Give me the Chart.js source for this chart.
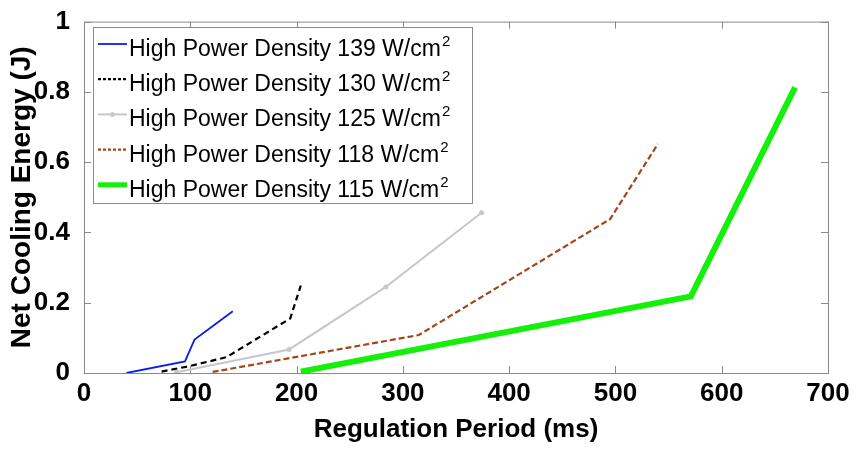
<!DOCTYPE html>
<html>
<head>
<meta charset="utf-8">
<script src="https://cdn.jsdelivr.net/npm/chart.js@4.4.0/dist/chart.umd.min.js"></script>
<style>
  html, body { margin: 0; padding: 0; background: #fff; }
</style>
</head>
<body>
<canvas id="myChart" width="854" height="451"></canvas>
<script>
// regulation period (ms) / net cooling energy (J) for each power density
var p139x = [40, 95, 104, 140];
var p139y = [0, 0.033, 0.095, 0.176];
var p130x = [73, 100, 134, 194, 204];
var p130y = [0.004, 0.02, 0.045, 0.155, 0.249];
var p125x = [87, 193, 284, 374];
var p125y = [0.002, 0.067, 0.245, 0.456];
var p118x = [121, 315, 495, 540];
var p118y = [0.003, 0.108, 0.438, 0.652];
var p115x = [204, 571, 669];
var p115y = [0.004, 0.218, 0.813];

var seriesNames = ['High Power Density 139 W/cm', 'High Power Density 130 W/cm',
  'High Power Density 125 W/cm', 'High Power Density 118 W/cm', 'High Power Density 115 W/cm'];
var xTicks = [0, 100, 200, 300, 400, 500, 600, 700];
var yTicks = [0, 0.2, 0.4, 0.6, 0.8, 1];

var FONT = "'Liberation Sans', Arial, sans-serif";
Chart.defaults.font.family = FONT;
Chart.defaults.color = '#000';

function pts(xs, ys) {
  return xs.map(function(v, i) { return {x: v, y: ys[i]}; });
}

// box frame with matlab style inward ticks
var frameTicks = {
  id: 'frameTicks',
  beforeDatasetsDraw: function(chart) {
    var ctx = chart.ctx, a = chart.chartArea;
    var sx = chart.scales.x, sy = chart.scales.y;
    ctx.save();
    ctx.strokeStyle = '#8a8a8a';
    ctx.lineWidth = 1;
    ctx.strokeRect(a.left + 0.5, a.top + 0.5, a.right - a.left, a.bottom - a.top);
    ctx.beginPath();
    xTicks.forEach(function(v) {
      var px = Math.round(sx.getPixelForValue(v)) + 0.5;
      ctx.moveTo(px, a.bottom); ctx.lineTo(px, a.bottom - 7);
      ctx.moveTo(px, a.top); ctx.lineTo(px, a.top + 7);
    });
    yTicks.forEach(function(v) {
      var py = Math.round(sy.getPixelForValue(v)) + 0.5;
      ctx.moveTo(a.left, py); ctx.lineTo(a.left + 7, py);
      ctx.moveTo(a.right, py); ctx.lineTo(a.right - 7, py);
    });
    ctx.stroke();
    ctx.restore();
  }
};

// legend box in the upper left corner, with superscript units
var boxLegend = {
  id: 'boxLegend',
  afterDraw: function(chart) {
    var ctx = chart.ctx;
    var left = 93, top = 27, w = 379, h = 176;
    ctx.save();
    ctx.fillStyle = '#fff';
    ctx.fillRect(left, top, w, h);
    ctx.strokeStyle = '#8a8a8a';
    ctx.lineWidth = 1;
    ctx.strokeRect(left + 0.5, top + 0.5, w, h);
    chart.data.datasets.forEach(function(ds, i) {
      var ly = 44 + i * 35.2;
      ctx.save();
      ctx.strokeStyle = ds.borderColor;
      ctx.lineWidth = Math.min(ds.borderWidth, 5);
      ctx.setLineDash(ds.borderDash ? [3, 2] : []);
      ctx.beginPath();
      ctx.moveTo(98, ly);
      ctx.lineTo(127, ly);
      ctx.stroke();
      if (ds.pointRadius > 0) {
        ctx.fillStyle = ds.borderColor;
        ctx.beginPath();
        ctx.arc(112.5, ly, 2.5, 0, Math.PI * 2);
        ctx.fill();
      }
      ctx.restore();
      ctx.fillStyle = '#000';
      ctx.textBaseline = 'alphabetic';
      ctx.font = '23px ' + FONT;
      ctx.fillText(seriesNames[i], 129, ly + 12);
      var tw = ctx.measureText(seriesNames[i]).width;
      ctx.font = '15px ' + FONT;
      ctx.fillText('2', 129 + tw + 1, ly + 2);
    });
    ctx.restore();
  }
};

var config = {
  type: 'line',
  data: {
    datasets: [{
      label: seriesNames[0],
      data: pts(p139x, p139y),
      borderColor: 'rgb(10,30,235)',
      borderWidth: 1.8,
      pointRadius: 0
    }, {
      label: seriesNames[1],
      data: pts(p130x, p130y),
      borderColor: 'rgb(0,0,0)',
      borderWidth: 2.2,
      borderDash: [6, 4],
      pointRadius: 0
    }, {
      label: seriesNames[2],
      data: pts(p125x, p125y),
      borderColor: 'rgb(200,200,200)',
      backgroundColor: 'rgb(200,200,200)',
      borderWidth: 2,
      pointRadius: 2.5,
      pointBorderWidth: 0
    }, {
      label: seriesNames[3],
      data: pts(p118x, p118y),
      borderColor: 'rgb(165,70,25)',
      borderWidth: 2.2,
      borderDash: [6, 3],
      pointRadius: 0
    }, {
      label: seriesNames[4],
      data: pts(p115x, p115y),
      borderColor: 'rgb(20,240,10)',
      borderWidth: 6,
      pointRadius: 0
    }]
  },
  options: {
    responsive: false,
    animation: false,
    layout: { padding: { top: 20, right: 26, left: 0, bottom: 0 } },
    plugins: {
      legend: { display: false },
      tooltip: { enabled: false }
    },
    scales: {
      x: {
        type: 'linear',
        min: 0,
        max: 700,
        afterFit: function(scale) { scale.height = 78; },
        afterBuildTicks: function(scale) {
          scale.ticks = xTicks.map(function(v) { return {value: v}; });
        },
        grid: { display: false },
        border: { display: false },
        ticks: { padding: -3, maxRotation: 0, font: { size: 26, weight: 'bold' } },
        title: {
          display: true,
          text: 'Regulation Period (ms)',
          font: { size: 26, weight: 'bold' },
          padding: { top: 0, bottom: 6 }
        }
      },
      y: {
        min: 0,
        max: 1,
        afterFit: function(scale) { scale.width = 84; },
        afterBuildTicks: function(scale) {
          scale.ticks = yTicks.map(function(v) { return {value: v}; });
        },
        grid: { display: false },
        border: { display: false },
        ticks: {
          padding: 6,
          font: { size: 26, weight: 'bold' },
          callback: function(v) { return (v === 0 || v === 1) ? String(v) : v.toFixed(1); }
        },
        title: {
          display: true,
          text: 'Net Cooling Energy (J)',
          font: { size: 28, weight: 'bold' },
          padding: { top: 5, bottom: 0 }
        }
      }
    }
  },
  plugins: [frameTicks, boxLegend]
};

var myChart = new Chart(document.getElementById('myChart'), config);
</script>
</body>
</html>
